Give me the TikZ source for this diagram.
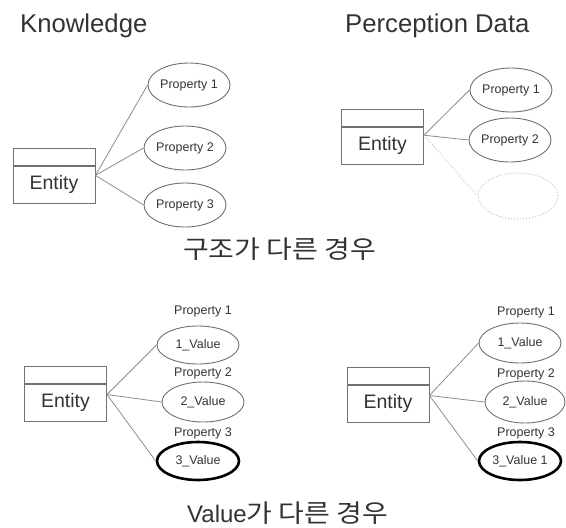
\documentclass[tikz,border=0pt]{standalone}
\usepackage{fontspec}
\setmainfont{Liberation Sans}
\newfontfamily\krfont{Noto Sans CJK KR}
\usetikzlibrary{shapes.geometric,calc}
\definecolor{txt}{HTML}{333333}
\definecolor{ln}{HTML}{8C8C8C}
\definecolor{ed}{HTML}{707070}
\newcommand{\krtext}[1]{\scalebox{1.12}[1]{\fontsize{25}{28}\selectfont\krfont #1}}
\tikzset{
  hdr/.style={draw=ed, line width=0.9pt, minimum width=82pt, minimum height=17pt, inner sep=0pt, anchor=north},
  body/.style={draw=ed, line width=0.9pt, minimum width=82pt, minimum height=37pt, inner sep=0pt, anchor=north, font=\fontsize{19.5}{20}\selectfont, text=txt},
  prop/.style={ellipse, draw=ed, line width=0.9pt, minimum width=82pt, minimum height=44pt, inner sep=0pt, font=\fontsize{12.5}{13}\selectfont, text=txt},
  val/.style={ellipse, draw=ed, line width=0.9pt, minimum width=82pt, minimum height=38pt, inner sep=0pt, font=\fontsize{12.5}{13}\selectfont, text=txt},
  bad/.style={val, draw=black, line width=2.6pt},
  ghost/.style={ellipse, draw=ln!55, dotted, line width=1pt, minimum width=80pt, minimum height=46pt, inner sep=0pt},
  lbl/.style={font=\fontsize{12.5}{13}\selectfont, text=txt, inner sep=0pt},
  ttl/.style={font=\fontsize{25.7}{28}\selectfont, text=txt, inner sep=0pt, anchor=base west},
  captxt/.style={font=\fontsize{24}{28}\selectfont, text=txt, inner sep=0pt},
  conn/.style={draw=ln, line width=0.8pt},
  ghostconn/.style={draw=ln!55, dotted, line width=1pt}
}
\begin{document}
\begin{tikzpicture}[x=1pt,y=-1pt]
\useasboundingbox (0,0) rectangle (566,528);
% titles
\node[ttl] (t1) at (20,32) {Knowledge};
\node[ttl] (t2) at (345,32) {Perception Data};
% ---- Knowledge (top-left)
\node[hdr] (h1) at (54,148) {};
\node[body] (e1) at (h1.south) {Entity};
\coordinate (o1) at ($(e1.north east)!0.25!(e1.south east)$);
\node[prop] (k1) at (189,85) {Property 1};
\node[prop] (k2) at (185,148) {Property 2};
\node[prop] (k3) at (185,205) {Property 3};
\draw[conn] (o1) -- (k1.west);
\draw[conn] (o1) -- (k2.west);
\draw[conn] (o1) -- (k3.west);
% ---- Perception (top-right)
\node[hdr] (h2) at (382.5,109) {};
\node[body] (e2) at (h2.south) {Entity};
\coordinate (o2) at ($(e2.north east)!0.22!(e2.south east)$);
\node[prop] (q1) at (511,90) {Property 1};
\node[prop] (q2) at (510,140) {Property 2};
\node[ghost] (q3) at (518,196) {};
\draw[conn] (o2) -- (q1.west);
\draw[conn] (o2) -- (q2.west);
\draw[ghostconn] (o2) -- (q3.west);
% caption 1
\node[captxt, anchor=west] (c1) at (183,249) {\krtext{구조가 다른 경우}};
% ---- bottom-left
\node[hdr] (h3) at (65.5,366) {};
\node[body] (e3) at (h3.south) {Entity};
\coordinate (o3) at ($(e3.north east)!0.28!(e3.south east)$);
\node[val] (a1) at (198,345) {1\_Value};
\node[val, minimum height=40pt] (a2) at (203,402) {2\_Value};
\node[bad] (a3) at (198,461) {3\_Value};
\node[lbl] (la1) at (203,311) {Property 1};
\node[lbl] (la2) at (203,373) {Property 2};
\node[lbl] (la3) at (203,433) {Property 3};
\draw[conn] (o3) -- (a1.west);
\draw[conn] (o3) -- (a2.west);
\draw[conn] (o3) -- (a3.west);
% ---- bottom-right
\node[hdr] (h4) at (388,367) {};
\node[body] (e4) at (h4.south) {Entity};
\coordinate (o4) at ($(e4.north east)!0.28!(e4.south east)$);
\node[val, minimum height=40pt] (b1) at (520,343) {1\_Value};
\node[val, minimum width=80pt, minimum height=42pt] (b2) at (525,402) {2\_Value};
\node[bad] (b3) at (520,461) {3\_Value 1};
\node[lbl] (lb1) at (526,312) {Property 1};
\node[lbl] (lb2) at (526,374) {Property 2};
\node[lbl] (lb3) at (526,433) {Property 3};
\draw[conn] (o4) -- (b1.west);
\draw[conn] (o4) -- (b2.west);
\draw[conn] (o4) -- (b3.west);
% caption 2
\node[captxt, anchor=base west] (c2) at (187,522) {Value\krtext{가 다른 경우}};
\end{tikzpicture}
\end{document}
